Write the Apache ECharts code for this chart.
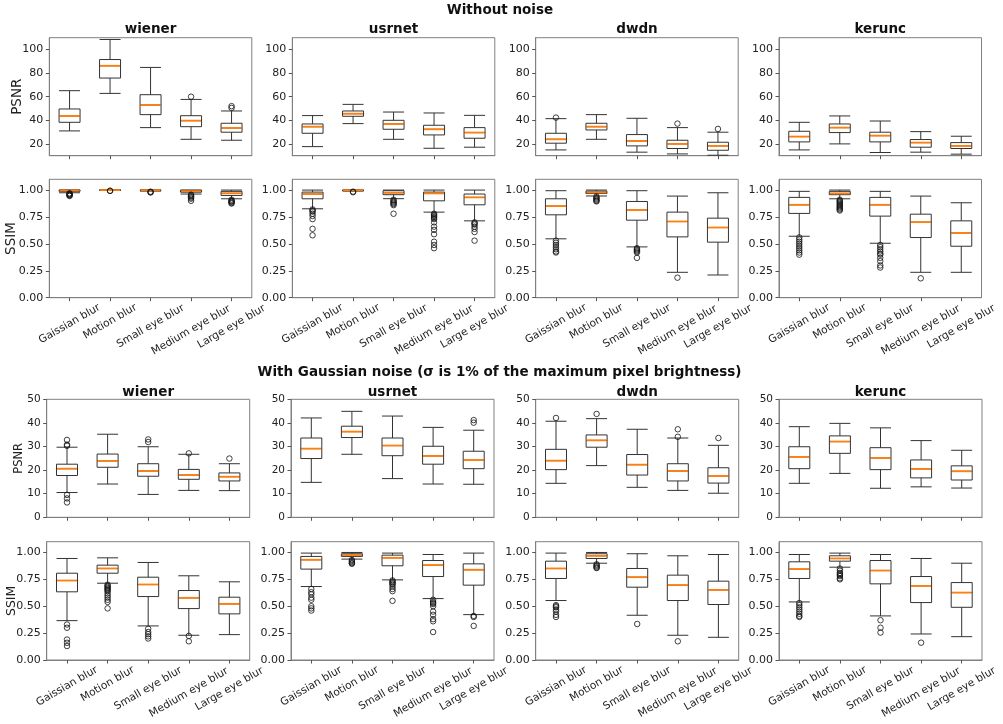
<!DOCTYPE html>
<html><head><meta charset="utf-8">
<script src="https://cdn.jsdelivr.net/npm/echarts@6/dist/echarts.min.js"></script>
<style>html,body{margin:0;padding:0;background:#fff}#c{width:1003px;height:724px}</style>
</head><body><div id="c"></div>
<script>
// ---------------- DATA ----------------
const categories = ['Gaissian blur', 'Motion blur', 'Small eye blur', 'Medium eye blur', 'Large eye blur'];
const methods = ['wiener', 'usrnet', 'dwdn', 'kerunc'];
const psnrTicksClean = [20, 40, 60, 80, 100];
const psnrTicksNoisy = [0, 10, 20, 30, 40, 50];
const ssimTicks = [0, 0.25, 0.5, 0.75, 1.0];
const sectionTitles = ['Without noise', 'With Gaussian noise (σ is 1% of the maximum pixel brightness)'];

// box = [min whisker, Q1, median, Q3, max whisker]
const cleanPsnrWiener = [[31, 38.3, 43.7, 49.6, 65.1], [62.8, 75.8, 86.2, 91.5, 108.5], [33.8, 44.8, 53, 61.7, 84.8], [23.9, 34.6, 39.7, 43.9, 57.7], [23.1, 29.9, 33.5, 37.5, 47.9]];
const cleanPsnrWienerOut = [[], [], [], [60], [52, 50.5]];
const cleanPsnrUsrnet = [[17.7, 29, 34.6, 36.9, 44], [37.2, 43.4, 45.6, 47.9, 53.5], [23.9, 32.4, 36.9, 40, 47], [16.3, 27.6, 32.4, 35.8, 46.2], [17.2, 24.8, 29.6, 33.8, 44.2]];
const cleanPsnrUsrnetOut = [[], [], [], [], []];
const cleanPsnrDwdn = [[14.9, 20.6, 23.9, 29, 41.4], [23.9, 31.8, 34.6, 37.5, 44.8], [13, 18.3, 22.5, 27.9, 41.7], [11.5, 16.1, 20, 23.1, 33.8], [10.4, 14.6, 18.3, 21.4, 29.9]];
const cleanPsnrDwdnOut = [[42.3], [], [], [37.2], [32.7]];
const cleanPsnrKerunc = [[14.9, 21.7, 26.2, 30.7, 38.3], [20, 29.6, 33.8, 36.9, 43.7], [12.7, 21.7, 27, 29.9, 39.4], [13, 17.2, 21.1, 23.7, 30.4], [11.3, 16.1, 18.3, 21.1, 26.5]];
const cleanPsnrKeruncOut = [[], [], [], [], []];

const cleanSsimWiener = [[0.975, 0.988, 0.996, 1.0, 1.0], [0.998, 0.999, 1.0, 1.0, 1.0], [0.99, 0.996, 0.999, 1.0, 1.0], [0.963, 0.98, 0.99, 0.998, 1.0], [0.919, 0.95, 0.97, 0.988, 1.0]];
const cleanSsimWienerOut = [[0.97, 0.965, 0.96, 0.955, 0.95, 0.945], [0.994, 0.992], [0.985, 0.98, 0.978], [0.957, 0.95, 0.94, 0.93, 0.92, 0.90], [0.91, 0.90, 0.895, 0.89, 0.88, 0.875]];
const cleanSsimUsrnet = [[0.826, 0.919, 0.963, 0.981, 1.0], [0.99, 0.995, 0.998, 1.0, 1.0], [0.92, 0.957, 0.975, 0.994, 1.0], [0.795, 0.90, 0.969, 0.981, 1.0], [0.714, 0.863, 0.932, 0.963, 1.0]];
const cleanSsimUsrnetOut = [[0.82, 0.81, 0.80, 0.78, 0.76, 0.73, 0.64, 0.58], [0.985, 0.98], [0.91, 0.90, 0.89, 0.88, 0.87, 0.86, 0.78], [0.78, 0.77, 0.76, 0.75, 0.74, 0.73, 0.70, 0.66, 0.63, 0.59, 0.52, 0.49, 0.46], [0.70, 0.69, 0.68, 0.66, 0.64, 0.61, 0.53]];
const cleanSsimDwdn = [[0.547, 0.770, 0.851, 0.919, 0.994], [0.945, 0.968, 0.977, 0.99, 1.0], [0.472, 0.720, 0.814, 0.894, 0.994], [0.236, 0.565, 0.708, 0.795, 0.944], [0.211, 0.516, 0.652, 0.739, 0.975]];
const cleanSsimDwdnOut = [[0.53, 0.51, 0.49, 0.47, 0.45, 0.43, 0.42], [0.94, 0.93, 0.92, 0.91, 0.90, 0.895], [0.46, 0.45, 0.44, 0.43, 0.42, 0.37], [0.186], []];
const cleanSsimKerunc = [[0.571, 0.783, 0.863, 0.932, 0.988], [0.919, 0.957, 0.969, 0.988, 1.0], [0.506, 0.758, 0.863, 0.932, 0.988], [0.236, 0.559, 0.702, 0.776, 0.944], [0.236, 0.478, 0.602, 0.714, 0.882]];
const cleanSsimKeruncOut = [[0.56, 0.54, 0.52, 0.50, 0.48, 0.46, 0.44, 0.42, 0.40], [0.91, 0.90, 0.89, 0.88, 0.87, 0.86, 0.85, 0.84, 0.83, 0.82, 0.81], [0.49, 0.47, 0.45, 0.43, 0.41, 0.40, 0.37, 0.34, 0.30, 0.28], [0.18], []];

const noisyPsnrWiener = [[10.5, 17.7, 20.6, 22.5, 29.7], [14.1, 21.2, 23.9, 26.8, 35.2], [9.7, 17.4, 19.6, 22.7, 29.9], [11.4, 16.1, 17.9, 20.3, 26.7], [11.3, 15.4, 17.2, 18.8, 22.7]];
const noisyPsnrWienerOut = [[32.8, 30.8, 30.3, 9.5, 8.0, 6.3], [], [33, 31.9], [27.1], [24.9]];
const noisyPsnrUsrnet = [[14.8, 24.9, 29.1, 33.6, 42.1], [26.7, 33.8, 36.3, 38.6, 44.9], [16.4, 26.1, 30.4, 33.6, 42.9], [14.1, 22.5, 26, 30.1, 38.1], [14, 20.6, 24.3, 28, 36.9]];
const noisyPsnrUsrnetOut = [[], [], [], [], [41.2, 40.1]];
const noisyPsnrDwdn = [[14.4, 20.2, 24, 28.8, 40.7], [21.9, 29.7, 32.6, 34.9, 41.8], [12.7, 17.9, 22.3, 26.6, 37.3], [11.4, 15.4, 19.6, 22.7, 33.6], [10.2, 14.5, 17.5, 21, 30.5]];
const noisyPsnrDwdnOut = [[42.1], [43.8], [], [37.3, 34.1], [33.6]];
const noisyPsnrKerunc = [[14.4, 20.6, 25.6, 29.9, 38.4], [18.6, 27.1, 32.1, 34.5, 39.8], [12.3, 20.2, 25.1, 29.5, 37.9], [12.9, 16.7, 20.5, 24.3, 32.5], [12.4, 15.8, 19.5, 21.8, 28.4]];
const noisyPsnrKeruncOut = [[], [], [], [], []];

const noisySsimWiener = [[0.366, 0.634, 0.739, 0.807, 0.944], [0.714, 0.807, 0.851, 0.882, 0.95], [0.317, 0.590, 0.702, 0.770, 0.907], [0.23, 0.478, 0.578, 0.646, 0.783], [0.236, 0.429, 0.522, 0.584, 0.727]];
const noisySsimWienerOut = [[0.33, 0.30, 0.19, 0.16, 0.13], [0.70, 0.69, 0.68, 0.67, 0.66, 0.65, 0.64, 0.62, 0.60, 0.58, 0.56, 0.54, 0.48], [0.29, 0.26, 0.24, 0.22, 0.20], [0.224, 0.174], []];
const noisySsimUsrnet = [[0.683, 0.845, 0.932, 0.963, 0.994], [0.938, 0.963, 0.975, 0.988, 1.0], [0.745, 0.876, 0.95, 0.975, 0.994], [0.571, 0.776, 0.882, 0.925, 0.981], [0.422, 0.696, 0.839, 0.894, 0.994]];
const noisySsimUsrnetOut = [[0.66, 0.63, 0.61, 0.58, 0.56, 0.50, 0.48, 0.46], [0.93, 0.92, 0.91, 0.90, 0.895], [0.74, 0.73, 0.72, 0.71, 0.70, 0.68, 0.66, 0.64, 0.55], [0.56, 0.54, 0.53, 0.52, 0.50, 0.45, 0.42, 0.38, 0.36, 0.26], [0.41, 0.40, 0.317]];
const noisySsimDwdn = [[0.553, 0.758, 0.851, 0.919, 0.994], [0.90, 0.944, 0.969, 0.988, 1.0], [0.416, 0.677, 0.770, 0.851, 0.988], [0.23, 0.553, 0.696, 0.789, 0.969], [0.211, 0.516, 0.652, 0.733, 0.981]];
const noisySsimDwdnOut = [[0.51, 0.50, 0.49, 0.47, 0.45, 0.42, 0.40], [0.89, 0.88, 0.87, 0.86, 0.855], [0.335], [0.174], []];
const noisySsimKerunc = [[0.54, 0.758, 0.845, 0.913, 0.981], [0.863, 0.919, 0.944, 0.969, 0.994], [0.41, 0.708, 0.832, 0.925, 0.981], [0.242, 0.534, 0.689, 0.776, 0.944], [0.217, 0.49, 0.627, 0.72, 0.90]];
const noisySsimKeruncOut = [[0.53, 0.51, 0.49, 0.47, 0.45, 0.43, 0.41, 0.40], [0.85, 0.83, 0.81, 0.80, 0.79, 0.78, 0.76, 0.75], [0.37, 0.30, 0.255], [0.161], []];

// ---------------- LAYOUT ----------------
const rowBoxes = [
  [cleanPsnrWiener, cleanPsnrUsrnet, cleanPsnrDwdn, cleanPsnrKerunc],
  [cleanSsimWiener, cleanSsimUsrnet, cleanSsimDwdn, cleanSsimKerunc],
  [noisyPsnrWiener, noisyPsnrUsrnet, noisyPsnrDwdn, noisyPsnrKerunc],
  [noisySsimWiener, noisySsimUsrnet, noisySsimDwdn, noisySsimKerunc]
];
const rowOut = [
  [cleanPsnrWienerOut, cleanPsnrUsrnetOut, cleanPsnrDwdnOut, cleanPsnrKeruncOut],
  [cleanSsimWienerOut, cleanSsimUsrnetOut, cleanSsimDwdnOut, cleanSsimKeruncOut],
  [noisyPsnrWienerOut, noisyPsnrUsrnetOut, noisyPsnrDwdnOut, noisyPsnrKeruncOut],
  [noisySsimWienerOut, noisySsimUsrnetOut, noisySsimDwdnOut, noisySsimKeruncOut]
];
const colLeft = [[49.3, 292.3, 535.7, 779], [49.3, 292.3, 535.7, 779], [46.7, 291, 535.7, 779], [46.7, 291, 535.7, 779]];
const colWidth = [202.5, 202.5, 203, 203];
const rowTop = [37.7, 179.3, 399.3, 541.7];
const rowHeight = [118, 118.4, 118, 118.3];
const rowAxis = [
  {min: 10, max: 110, ticks: psnrTicksClean, name: 'PSNR', gap: 25, nameSize: 13.5, fs: 11, fmt: v => String(v)},
  {min: 0, max: 1.1, ticks: ssimTicks, name: 'SSIM', gap: 31, nameSize: 13.5, fs: 11, fmt: v => v.toFixed(2)},
  {min: 0, max: 50, ticks: psnrTicksNoisy, name: 'PSNR', gap: 22, nameSize: 11.5, fs: 10.5, fmt: v => String(v)},
  {min: 0, max: 1.1, ticks: ssimTicks, name: 'SSIM', gap: 28, nameSize: 12.5, fs: 11, fmt: v => v.toFixed(2)}
];
// extra downward shift of each rotated tick label (its centre sits lower the longer it is)
const labelShift = [2.3, 0, 4.5, 8.5, 5];
const ROT = 30, S = Math.sin(ROT * Math.PI / 180), C = Math.cos(ROT * Math.PI / 180);
const FONT = '"DejaVu Sans", sans-serif';
const LABEL_FS = 10.6;

const rich = {};
labelShift.forEach((d, i) => {
  rich['l' + i] = {fontSize: LABEL_FS, color: '#222', fontFamily: FONT,
    padding: [2 * C * d, 2 * S * d, 0, 0]};
});

const grids = [], xAxes = [], yAxes = [], series = [], graphics = [];

for (let r = 0; r < 4; r++) {
  for (let c = 0; c < 4; c++) {
    const idx = grids.length;
    const ax = rowAxis[r];
    grids.push({left: colLeft[r][c], top: rowTop[r], width: colWidth[r], height: rowHeight[r],
      show: true, borderColor: '#808080', borderWidth: 1, backgroundColor: 'transparent',
      containLabel: false, outerBoundsMode: 'none'});
    const showX = (r % 2 === 1);
    xAxes.push({gridIndex: idx, type: 'category', data: categories, boundaryGap: true,
      axisLine: {show: true, lineStyle: {color: '#808080', width: 1}},
      axisTick: {show: true, alignWithLabel: true, length: 3.5, lineStyle: {color: '#555'}},
      axisLabel: showX ? {show: true, interval: 0, rotate: ROT, align: 'center', verticalAlign: 'middle',
        margin: 24, fontSize: LABEL_FS, color: '#222', fontFamily: FONT, hideOverlap: false,
        formatter: (v, i) => '{l' + i + '|' + v + '}', rich: rich} : {show: false, interval: 0},
      splitLine: {show: false}});
    yAxes.push({gridIndex: idx, type: 'value', min: ax.min, max: ax.max,
      axisLine: {show: true, lineStyle: {color: '#808080', width: 1}},
      axisTick: {show: true, length: 3.5, customValues: ax.ticks, lineStyle: {color: '#555'}},
      axisLabel: {show: true, customValues: ax.ticks, formatter: ax.fmt, fontSize: ax.fs, color: '#222', margin: 6, fontFamily: FONT},
      splitLine: {show: false},
      name: c === 0 ? ax.name : '', nameLocation: 'middle', nameGap: ax.gap, nameMoveOverlap: false,
      nameTextStyle: {fontSize: ax.nameSize, color: '#222', fontFamily: FONT}});
    const boxes = rowBoxes[r][c];
    const outs = rowOut[r][c];
    series.push({type: 'boxplot', xAxisIndex: idx, yAxisIndex: idx, data: boxes, boxWidth: [21, 21], silent: true,
      itemStyle: {color: 'rgba(255,255,255,0)', borderColor: '#333', borderWidth: 1}});
    series.push({type: 'scatter', xAxisIndex: idx, yAxisIndex: idx, silent: true, symbol: 'rect', symbolSize: [20, 1.8],
      data: boxes.map((b, i) => [i, b[2]]), itemStyle: {color: '#ff7f0e', opacity: 1}, z: 3});
    const outData = [];
    outs.forEach((arr, i) => arr.forEach(v => outData.push([i, v])));
    series.push({type: 'scatter', xAxisIndex: idx, yAxisIndex: idx, silent: true, symbol: 'circle', symbolSize: 5.5,
      data: outData, itemStyle: {color: 'rgba(255,255,255,0)', borderColor: '#111', borderWidth: 0.8, opacity: 1}, z: 4});
    if (r === 0 || r === 2) {
      graphics.push({type: 'text', x: colLeft[r][c] + colWidth[r] / 2, y: r === 0 ? 29.3 : 392,
        style: {text: methods[c], font: 'bold 13.5px ' + FONT, fill: '#111', align: 'center', verticalAlign: 'middle'}});
    }
  }
}
graphics.push({type: 'text', x: 500, y: 10, style: {text: sectionTitles[0], font: 'bold 13.5px ' + FONT, fill: '#111', align: 'center', verticalAlign: 'middle'}});
graphics.push({type: 'text', x: 499.5, y: 372.5, style: {text: sectionTitles[1], font: 'bold 13.5px ' + FONT, fill: '#111', align: 'center', verticalAlign: 'middle'}});

const chart = echarts.init(document.getElementById('c'), null, {renderer: 'canvas'});
chart.setOption({animation: false, backgroundColor: '#fff', grid: grids, xAxis: xAxes, yAxis: yAxes, series: series, graphic: graphics});
</script></body></html>
